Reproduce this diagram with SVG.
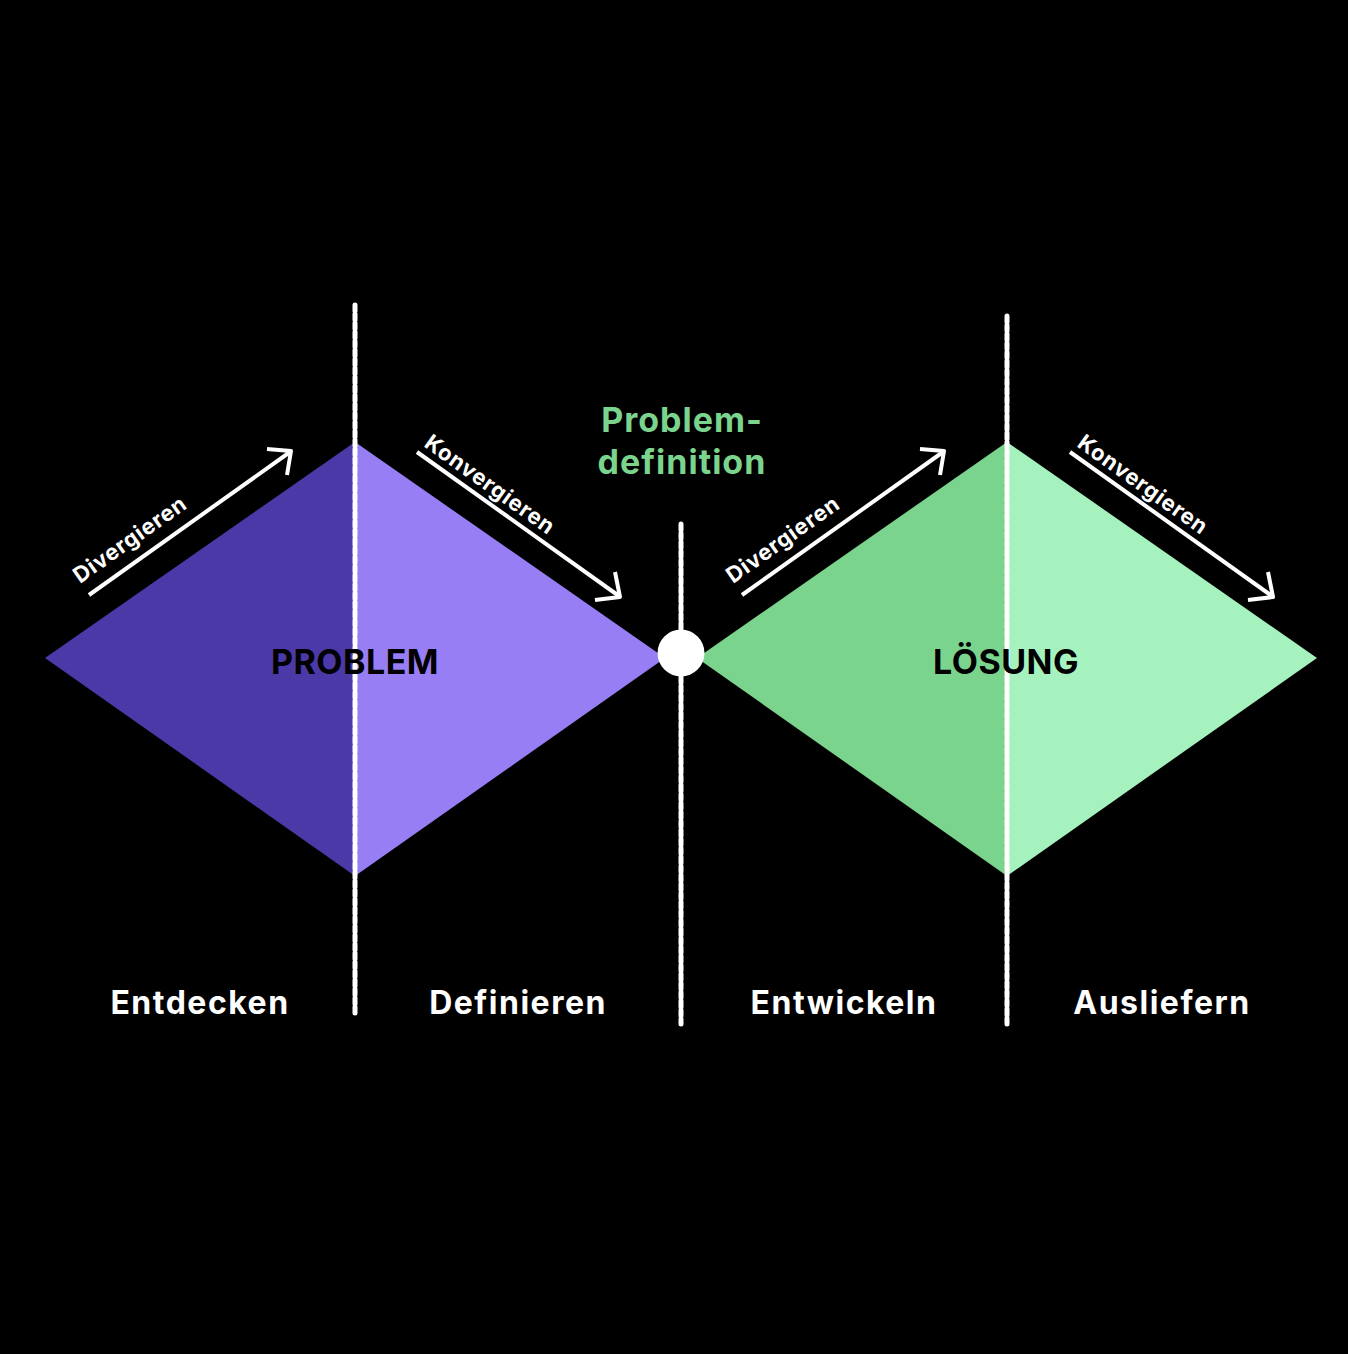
<svg xmlns="http://www.w3.org/2000/svg" width="1348" height="1354" viewBox="0 0 1348 1354">
<style>
.t{font-family:Inter,"Liberation Sans",sans-serif;font-weight:700}
.lbl{font-size:32px;fill:#fff;text-anchor:middle;letter-spacing:1.5px}
.big{font-size:34px;fill:#000;text-anchor:middle;letter-spacing:0.5px}
.diag{font-size:22px;fill:#fff;letter-spacing:0.8px}
.arr{stroke:#fff;stroke-width:4;fill:none;stroke-linecap:butt;stroke-linejoin:round}
.dash{stroke:#fff;stroke-width:5;stroke-dasharray:6 3;stroke-linecap:round}
</style>
<rect width="1348" height="1354" fill="#000"/>
<g id="diamond-problem">
<polygon points="45,658 355,442 355,876" fill="#4B39A8"/>
<polygon points="355,442 665,658 355,876" fill="#977EF4"/>
</g>
<g id="diamond-loesung">
<polygon points="697,658 1007,442 1007,876" fill="#7AD48D"/>
<polygon points="1007,442 1317,658 1007,876" fill="#A6F2BE"/>
</g>
<g id="connectors">
<line class="dash" x1="355" y1="305" x2="355" y2="1014"/>
<line class="dash" x1="681" y1="524" x2="681" y2="1024"/>
<line class="dash" x1="1007" y1="316" x2="1007" y2="1024"/>
<line class="arr" x1="89" y1="595" x2="290" y2="452"/>
<polyline class="arr" points="267,449 291,451 287,475"/>
<line class="arr" x1="417" y1="452" x2="619" y2="596"/>
<polyline class="arr" points="615,572 620,597 595,600"/>
<line class="arr" x1="742" y1="595" x2="943" y2="452"/>
<polyline class="arr" points="920,449 944,451 940,475"/>
<line class="arr" x1="1070" y1="452" x2="1272" y2="596"/>
<polyline class="arr" points="1268,572 1273,597 1248,600"/>
</g>
<g id="midpoint">
<circle cx="681" cy="653" r="23.5" fill="#fff"/>
</g>
<g id="label-problemdefinition">
<text class="t" x="682" y="432" font-size="34" fill="#7AD48D" text-anchor="middle" letter-spacing="1">Problem-</text>
<text class="t" x="682" y="474" font-size="34" fill="#7AD48D" text-anchor="middle" letter-spacing="1">definition</text>
</g>
<g id="label-problem"><text class="t big" x="355" y="674">PROBLEM</text></g>
<g id="label-loesung"><text class="t big" x="1006" y="674">LÖSUNG</text></g>
<g id="diag-labels">
<text class="t diag" transform="translate(80,584) rotate(-35.3)">Divergieren</text>
<text class="t diag" transform="translate(423,446) rotate(35.5)">Konvergieren</text>
<text class="t diag" transform="translate(733,584) rotate(-35.3)">Divergieren</text>
<text class="t diag" transform="translate(1076,446) rotate(35.5)">Konvergieren</text>
</g>
<g id="phases">
<text class="t lbl" x="200" y="1014">Entdecken</text>
<text class="t lbl" x="518" y="1014">Definieren</text>
<text class="t lbl" x="844" y="1014">Entwickeln</text>
<text class="t lbl" x="1162" y="1014">Ausliefern</text>
</g>
</svg>
